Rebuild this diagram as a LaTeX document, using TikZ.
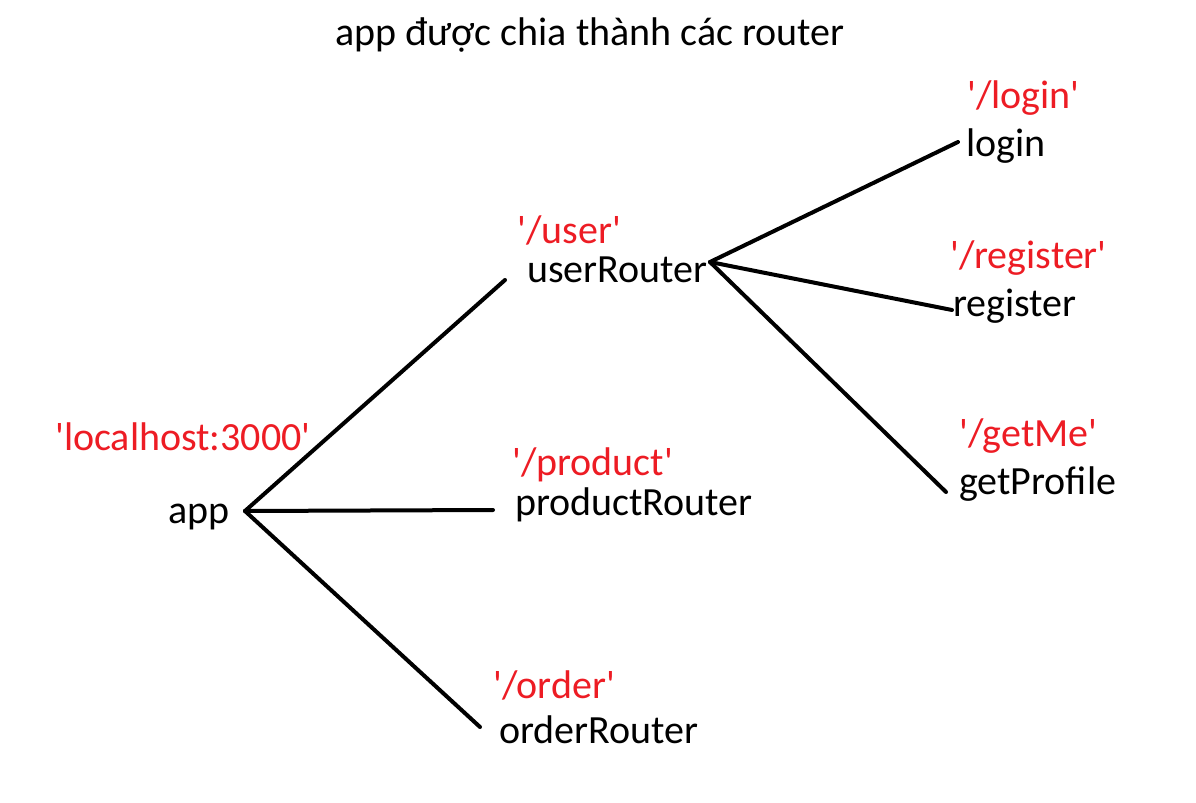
\documentclass[tikz,border=0pt]{standalone}
\usepackage{fontspec}
\setmainfont{Carlito}[Ligatures=TeXOff]
\definecolor{pred}{RGB}{237,28,36}
\tikzset{
  lbl/.style={anchor=base west, inner sep=0pt, font=\fontsize{30}{36}\selectfont, text=black},
  rlbl/.style={lbl, text=pred},
  edge/.style={line width=3pt, line cap=round, black}
}
\begin{document}
\begin{tikzpicture}[x=0.75pt,y=-0.75pt]
\useasboundingbox (0,0) rectangle (1196,803);
\node[lbl, anchor=base] (title) at (590,45) {app được chia thành các router};
\node[rlbl] (lh) at (55,450) {'localhost:3000'};
\node[lbl] (app) at (168,523) {app};
\node[rlbl] (pu) at (517,243) {'/user'};
\node[lbl] (ur) at (527,282) {userRouter};
\node[rlbl] (pp) at (512,475) {'/product'};
\node[lbl] (pr) at (515,515) {productRouter};
\node[rlbl] (po) at (493,698) {'/order'};
\node[lbl] (or) at (499,743) {orderRouter};
\node[rlbl] (pl) at (967,108) {'/login'};
\node[lbl] (lg) at (966,156) {login};
\node[rlbl] (preg) at (950,268) {'/register'};
\node[lbl] (reg) at (953,316) {register};
\node[rlbl] (pg) at (959,446) {'/getMe'};
\node[lbl] (gp) at (959,494) {getProfile};
\coordinate (a0) at (245,511);
\coordinate (a1) at (505,280);
\coordinate (a2) at (493,510);
\coordinate (a3) at (480,727);
\coordinate (u0) at (710,262);
\coordinate (u1) at (958,142);
\coordinate (u2) at (952,310);
\coordinate (u3) at (946,492);
\draw[edge] (a0) -- (a1);
\draw[edge] (a0) -- (a2);
\draw[edge] (a0) -- (a3);
\draw[edge] (u0) -- (u1);
\draw[edge] (u0) -- (u2);
\draw[edge] (u0) -- (u3);
\end{tikzpicture}
\end{document}
